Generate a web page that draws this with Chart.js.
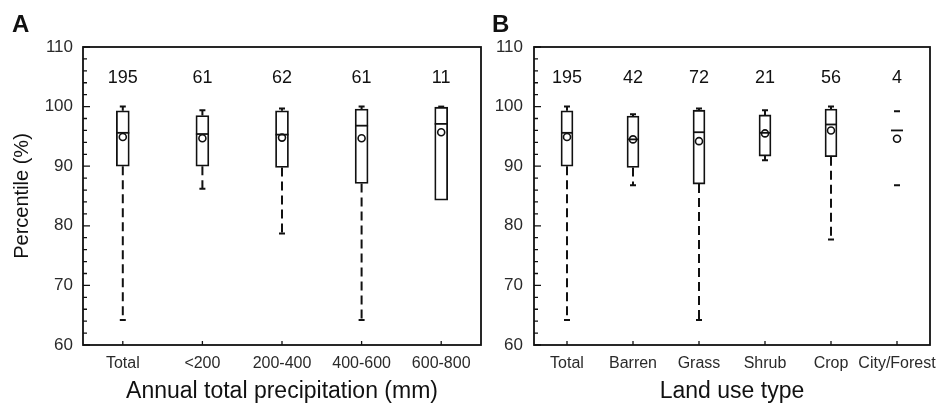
<!DOCTYPE html>
<html>
<head>
<meta charset="utf-8">
<script src="https://cdn.jsdelivr.net/npm/chart.js@4.4.1/dist/chart.umd.min.js"></script>
<style>
  body { margin: 0; background: #fff; }
  #wrap { position: relative; width: 941px; height: 408px; }
  .panel { position: absolute; top: 0; height: 408px; }
</style>
</head>
<body>
<div id="wrap">
  <div class="panel" style="left:0;width:490px"><canvas id="chartA"></canvas></div>
  <div class="panel" style="left:490px;width:451px"><canvas id="chartB"></canvas></div>
</div>
<script>
// y axis
const yTicks = [60, 70, 80, 90, 100, 110];

// panel A - annual total precipitation
const precipLabels = ['Total', '<200', '200-400', '400-600', '600-800'];
const precipCounts = [195, 61, 62, 61, 11];
const precipMin    = [64.2, 86.2, 78.7, 64.2, 84.3];
const precipQ1     = [90.0, 90.0, 89.8, 87.1, 84.3];
const precipMedian = [95.6, 95.4, 95.3, 96.8, 97.1];
const precipQ3     = [99.3, 98.5, 99.3, 99.6, 99.9];
const precipMax    = [100.0, 99.4, 99.7, 100.0, 100.0];
const precipMean   = [94.9, 94.7, 94.8, 94.7, 95.7];

// panel B - land use type
const landLabels = ['Total', 'Barren', 'Grass', 'Shrub', 'Crop', 'City/Forest'];
const landCounts = [195, 42, 72, 21, 56, 4];
const landMin    = [64.2, 86.8, 64.2, 91.0, 77.7, 86.8];
const landQ1     = [90.0, 89.8, 87.0, 91.7, 91.6, null];
const landMedian = [95.6, 94.5, 95.7, 95.6, 97.0, 96.0];
const landQ3     = [99.3, 98.4, 99.4, 98.6, 99.6, null];
const landMax    = [100.0, 98.7, 99.7, 99.4, 100.0, 99.2];
const landMean   = [94.9, 94.5, 94.2, 95.5, 96.0, 94.6];

Chart.defaults.font.family = "'Liberation Sans', Arial, sans-serif";
Chart.defaults.color = '#2a2a2a';

// whiskers, medians, frame, inner ticks and n labels
const boxPlot = {
  id: 'boxPlot',
  afterDatasetsDraw(chart, args, opts) {
    const ctx = chart.ctx;
    const x = chart.scales.x, y = chart.scales.y;
    const a = chart.chartArea;
    const half = opts.boxWidth / 2;
    ctx.save();
    ctx.strokeStyle = '#111';
    ctx.lineCap = 'butt';

    opts.median.forEach((m, i) => {
      const cx = x.getPixelForValue(i);
      const lo = opts.q1[i], hi = opts.q3[i];
      ctx.lineWidth = 2;
      if (lo != null) {
        ctx.setLineDash([9, 5]);
        ctx.beginPath();
        ctx.moveTo(cx, y.getPixelForValue(lo));
        ctx.lineTo(cx, y.getPixelForValue(opts.min[i]));
        ctx.moveTo(cx, y.getPixelForValue(hi));
        ctx.lineTo(cx, y.getPixelForValue(opts.max[i]));
        ctx.stroke();
        ctx.setLineDash([]);
      }
      // caps
      ctx.beginPath();
      [opts.min[i], opts.max[i]].forEach(v => {
        if (v === lo) return;
        const py = y.getPixelForValue(v);
        ctx.moveTo(cx - 3, py);
        ctx.lineTo(cx + 3, py);
      });
      ctx.stroke();
      // median
      ctx.lineWidth = 1.8;
      const my = y.getPixelForValue(m);
      ctx.beginPath();
      ctx.moveTo(cx - half, my);
      ctx.lineTo(cx + half, my);
      ctx.stroke();
    });

    // frame
    ctx.lineWidth = 1.8;
    ctx.strokeRect(a.left, a.top, a.right - a.left, a.bottom - a.top);

    // inner ticks
    ctx.lineWidth = 1.3;
    ctx.beginPath();
    for (let v = y.min; v <= y.max; v += 2) {
      const py = y.getPixelForValue(v);
      const len = v % 10 === 0 ? 7 : 4;
      ctx.moveTo(a.left, py);
      ctx.lineTo(a.left + len, py);
    }
    opts.median.forEach((m, i) => {
      const px = x.getPixelForValue(i);
      ctx.moveTo(px, a.bottom);
      ctx.lineTo(px, a.bottom - 4);
    });
    ctx.stroke();

    // sample sizes
    ctx.fillStyle = '#111';
    ctx.font = "18px 'Liberation Sans', Arial, sans-serif";
    ctx.textAlign = 'center';
    ctx.textBaseline = 'middle';
    opts.counts.forEach((n, i) => {
      ctx.fillText(String(n), x.getPixelForValue(i), y.getPixelForValue(104.8));
    });

    // panel letter
    ctx.font = "bold 24px 'Liberation Sans', Arial, sans-serif";
    ctx.textAlign = 'left';
    ctx.textBaseline = 'alphabetic';
    ctx.fillText(opts.letter, opts.letterX, 32);
    ctx.restore();
  }
};

function makeChart(id, cfg) {
  new Chart(document.getElementById(id), {
    type: 'bar',
    data: {
      labels: cfg.labels,
      datasets: [
        {
          type: 'line',
          data: cfg.mean,
          showLine: false,
          pointRadius: 3.5,
          pointBorderWidth: 1.6,
          pointBorderColor: '#111',
          pointBackgroundColor: 'rgba(0,0,0,0)',
          order: 0
        },
        {
          data: cfg.q1.map((v, i) => v == null ? null : [v, cfg.q3[i]]),
          backgroundColor: '#fff',
          borderColor: '#111',
          borderWidth: 1.8,
          borderSkipped: false,
          barThickness: cfg.boxWidth,
          order: 1
        }
      ]
    },
    options: {
      responsive: true,
      maintainAspectRatio: false,
      animation: false,
      layout: { padding: cfg.padding },
      plugins: {
        legend: { display: false },
        tooltip: { enabled: false },
        boxPlot: {
          boxWidth: cfg.boxWidth,
          min: cfg.min, q1: cfg.q1, median: cfg.median, q3: cfg.q3, max: cfg.max,
          counts: cfg.counts, letter: cfg.letter, letterX: cfg.letterX
        }
      },
      scales: {
        x: {
          grid: { display: false, drawTicks: false },
          border: { display: false },
          ticks: { padding: 9, font: { size: 16 }, maxRotation: 0, autoSkip: false },
          title: { display: true, text: cfg.xTitle, font: { size: 23 }, color: '#111', padding: { top: 0, bottom: 1 } },
          afterFit(s) { s.height = 61; s.paddingLeft = 0; s.paddingRight = 0; }
        },
        y: {
          min: 60,
          max: 110,
          afterBuildTicks(s) { s.ticks = yTicks.map(v => ({ value: v })); },
          grid: { display: false, drawTicks: false },
          border: { display: false },
          ticks: { padding: cfg.yPad, font: { size: 17 } },
          title: { display: cfg.yTitle != null, text: cfg.yTitle || '', font: { size: 20 }, color: '#111', padding: { top: 2, bottom: 0 } },
          afterFit(s) { s.width = cfg.yWidth; }
        }
      }
    },
    plugins: [boxPlot]
  });
}

makeChart('chartA', {
  labels: precipLabels, counts: precipCounts, min: precipMin, q1: precipQ1,
  median: precipMedian, q3: precipQ3, max: precipMax, mean: precipMean,
  boxWidth: 13, letter: 'A', letterX: 12,
  xTitle: 'Annual total precipitation (mm)', yTitle: 'Percentile (%)',
  padding: { left: 8, right: 9, top: 47, bottom: 2 }, yWidth: 75, yPad: 10
});

makeChart('chartB', {
  labels: landLabels, counts: landCounts, min: landMin, q1: landQ1,
  median: landMedian, q3: landQ3, max: landMax, mean: landMean,
  boxWidth: 12, letter: 'B', letterX: 2,
  xTitle: 'Land use type', yTitle: null,
  padding: { left: 0, right: 11, top: 47, bottom: 2 }, yWidth: 44, yPad: 11
});
</script>
</body>
</html>
